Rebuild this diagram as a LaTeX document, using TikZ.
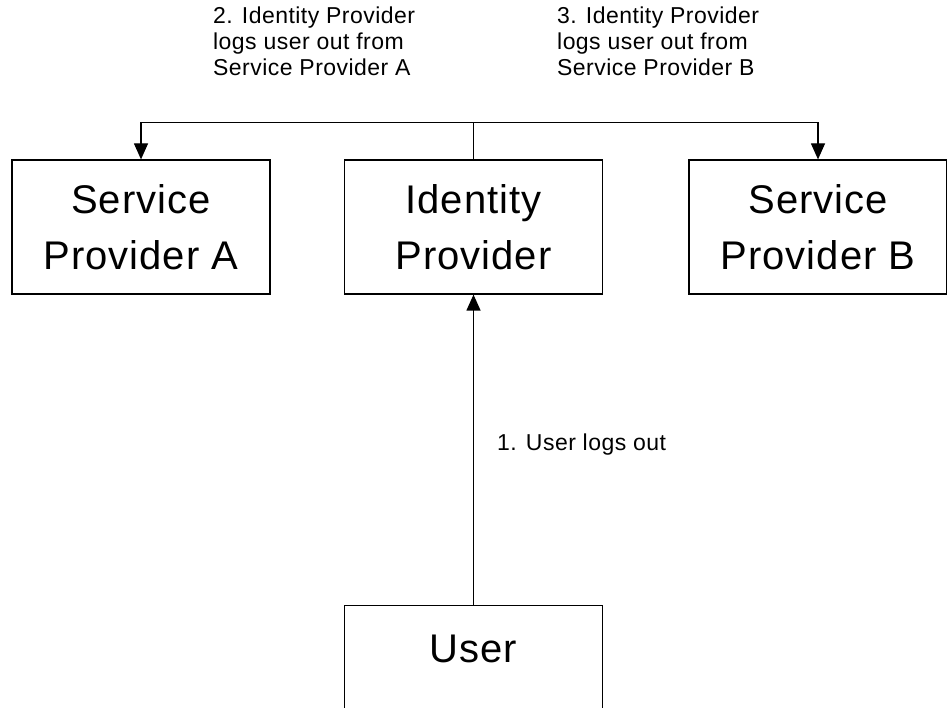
\documentclass[tikz,border=0pt]{standalone}
\usepackage{fontspec}
\setmainfont{Liberation Sans}
\newfontfamily\boxfont[LetterSpace=2.5]{Liberation Sans}
\newfontfamily\notefont[LetterSpace=2]{Liberation Sans}
\usetikzlibrary{arrows.meta,positioning}

\tikzset{
	party/.style={draw, line width=1.2pt, minimum width=258pt, minimum height=134pt, align=center,
		font=\boxfont\fontsize{40}{56}\selectfont},
	note/.style={align=left, inner sep=0pt, font=\notefont\fontsize{23}{26}\selectfont},
	flow/.style={line width=1.2pt, -{Triangle[width=14pt,length=16pt]}},
	wire/.style={line width=1.2pt}
}

\begin{document}
\begin{tikzpicture}[x=1pt,y=1pt]
		\clip (0,0) rectangle (947,-708);
		% the three parties on top
		\node [party] (spa) at (141,-227) {Service\\Provider A};
		\node [party] (idp) at (473.5,-227) {Identity\\Provider};
		\node [party] (spb) at (818,-227) {Service\\Provider B};
		% user box, cut off at the bottom
		\node [party, anchor=north, minimum height=0pt, inner ysep=27pt, text height=30pt, text depth=60pt] (user) at (473.5,-605) {User};
		% logout flow
		\draw [flow] (user.north) -- (idp.south);
		\path (idp.north) ++(0,37) coordinate (split);
		\draw [wire] (idp.north) -- (split);
		\draw [flow] (split) -| (spa.north);
		\draw [flow] (split) -| (spb.north);
		% step labels
		\node [note, anchor=base west] (step1) at (497,-450) {1. User logs out};
		\node [note, anchor=north west] (step2) at (213,-7) {2. Identity Provider\\logs user out from\\Service Provider A};
		\node [note, anchor=north west] (step3) at (557,-7) {3. Identity Provider\\logs user out from\\Service Provider B};
		
		\end{tikzpicture}
\end{document}
